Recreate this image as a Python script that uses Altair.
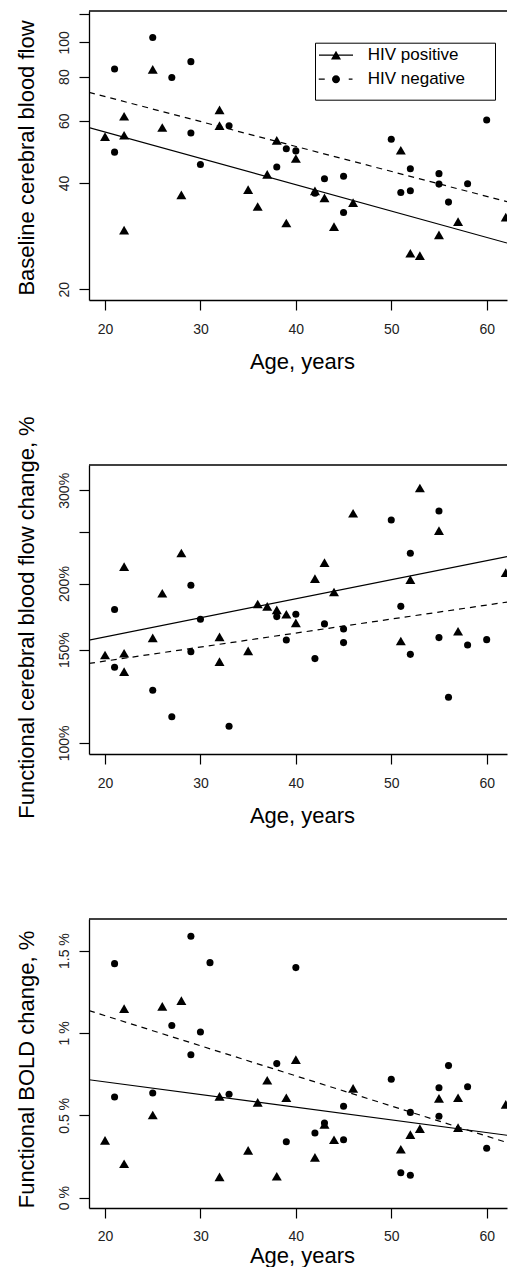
import altair as alt
import pandas as pd

# ---------------- data ----------------
GROUPS = ["HIV positive", "HIV negative"]

# panel 1: baseline cerebral blood flow (log axis)
cbf_pos_age = [20, 22, 22, 22, 25, 26, 28, 32, 32, 35, 36, 37, 38, 39, 40, 42, 43, 44, 46, 51, 52, 53, 55, 57, 62]
cbf_pos = [54.1, 61.8, 54.6, 29.4, 83.9, 57.4, 37.0, 64.4, 58.1, 38.3, 34.3, 42.3, 52.8, 30.8, 46.9,
           38.0, 36.3, 30.1, 35.2, 49.5, 25.3, 24.9, 28.5, 31.1, 32.0]
cbf_neg_age = [21, 21, 25, 27, 29, 29, 30, 33, 38, 39, 40, 42, 43, 45, 45, 50, 51, 52, 52, 55, 55, 56, 58, 60]
cbf_neg = [84.1, 48.9, 103.2, 79.5, 88.2, 55.4, 45.1, 58.1, 44.4, 50.0, 49.3, 37.4, 41.1, 41.8, 33.0,
           53.2, 37.6, 43.9, 38.0, 42.5, 39.7, 35.3, 39.8, 60.3]

# panel 2: functional cerebral blood flow change, % (log axis)
fcbf_pos_age = cbf_pos_age
fcbf_pos = [146.6, 215.3, 147.7, 136.4, 157.9, 191.7, 228.4, 158.6, 142.4, 149.2, 183.0, 181.1, 178.3,
            175.0, 168.5, 204.3, 219.0, 192.8, 271.5, 155.8, 203.4, 303.0, 251.7, 162.5, 209.7]
fcbf_neg_age = cbf_neg_age
fcbf_neg = [178.6, 139.0, 125.7, 112.1, 198.5, 148.7, 171.2, 107.5, 173.2, 156.5, 175.0, 144.3, 167.8,
            164.1, 154.7, 263.7, 181.1, 228.1, 147.0, 274.2, 158.1, 122.0, 153.1, 156.7]

# panel 3: functional BOLD change, %
bold_pos_age = [20, 22, 22, 25, 26, 28, 32, 32, 35, 36, 37, 38, 39, 40, 42, 43, 44, 46, 51, 52, 53, 55, 57, 57, 62]
bold_pos = [0.348, 1.148, 0.206, 0.502, 1.162, 1.196, 0.615, 0.126, 0.287, 0.579, 0.713, 0.130, 0.607,
            0.838, 0.245, 0.445, 0.352, 0.664, 0.294, 0.383, 0.419, 0.603, 0.425, 0.607, 0.567]
bold_neg_age = [21, 21, 25, 27, 29, 29, 30, 31, 33, 38, 39, 40, 42, 43, 45, 45, 50, 51, 52, 52, 55, 55, 56, 58, 60]
bold_neg = [1.421, 0.611, 0.636, 1.045, 1.587, 0.868, 1.006, 1.427, 0.628, 0.814, 0.340, 1.397, 0.393,
            0.453, 0.555, 0.352, 0.719, 0.152, 0.136, 0.518, 0.668, 0.494, 0.802, 0.674, 0.300]

# fitted regression lines: values at the left and right edges of the visible plotting region
fit_age = [18.32, 62.13]
cbf_fit_pos = [57.4, 27.04]
cbf_fit_neg = [72.2, 35.41]
fcbf_fit_pos = [156.4, 224.85]
fcbf_fit_neg = [141.3, 184.5]
bold_fit_pos = [0.716, 0.379]
bold_fit_neg = [1.136, 0.335]

x_ticks = [20, 30, 40, 50, 60]

# ---------------- styling ----------------
FONT = "Liberation Sans"
W, H = 418, 289
X_DOMAIN = [18.32, 62.13]

# legend key glyphs (units of 5 px): line + marker, plus move-to points that set the box extent
TRI_PATH = ("M-3.4,-0.12H3.4V0.12H-3.4Z"
            "M0,-0.9L1,0.85L-1,0.85Z"
            "M0,-3.66M31,0")
CIRC_PATH = ("M-3.45,-0.12H-2.25V0.12H-3.45Z"
             "M2.55,-0.12H3.3V0.12H2.55Z"
             "M0.8,0A0.8,0.8,0,1,1,-0.8,0A0.8,0.8,0,1,1,0.8,0Z"
             "M0,3.14M31,0")


def panel(ytitle, pa, pv, na, nv, fpos, fneg, yscale, yvalues, ylabel_expr, leg_xy,
          x_label_pad, x_title_pad, y_title_y):
    x = alt.X("age:Q", scale=alt.Scale(domain=X_DOMAIN, nice=False, zero=False),
              axis=alt.Axis(values=x_ticks, title="Age, years", labelOverlap=False,
                            labelPadding=x_label_pad, titlePadding=x_title_pad, titleX=213))
    y = alt.Y("val:Q", scale=yscale,
              axis=alt.Axis(values=yvalues, title=ytitle, labelExpr=ylabel_expr, labelOverlap=False,
                            titleY=y_title_y))

    pos_df = pd.DataFrame({"age": pa, "val": pv})
    neg_df = pd.DataFrame({"age": na, "val": nv})
    fpos_df = pd.DataFrame({"age": fit_age, "val": fpos})
    fneg_df = pd.DataFrame({"age": fit_age, "val": fneg})

    top = alt.Chart(pd.DataFrame({"a": [0]})).mark_rule(color="black", strokeWidth=1.3).encode(
        x=alt.value(0), x2=alt.value(W), y=alt.value(0))
    line_neg = alt.Chart(fneg_df).mark_line(color="black", strokeWidth=1.2, strokeDash=[6, 5],
                                            clip=True).encode(x=x, y=y)
    line_pos = alt.Chart(fpos_df).mark_line(color="black", strokeWidth=1.2, clip=True).encode(x=x, y=y)
    circ = alt.Chart(neg_df).mark_point(shape="circle", filled=True, size=50, color="black",
                                        opacity=1, clip=True).encode(x=x, y=y)
    tri = alt.Chart(pos_df).mark_point(shape="triangle-up", filled=True, size=100, color="black",
                                       opacity=1, clip=True).encode(x=x, y=y)
    leg = alt.Chart(pd.DataFrame({"grp": GROUPS})).transform_filter("false").mark_point(
        fill="black", opacity=1, filled=True
    ).encode(
        shape=alt.Shape("grp:N", scale=alt.Scale(domain=GROUPS, range=[TRI_PATH, CIRC_PATH]),
                        legend=alt.Legend(
                            title=None, orient="none", legendX=leg_xy[0], legendY=leg_xy[1],
                            padding=4, strokeColor="black", fillColor="white", cornerRadius=0,
                            labelFont=FONT, labelFontSize=17, labelColor="black",
                            symbolSize=100, symbolStrokeWidth=0, symbolFillColor="black",
                            symbolOpacity=1, symbolOffset=8.5, labelOffset=23.2, rowPadding=6))
    )
    return alt.layer(top, line_neg, line_pos, circ, tri, leg).properties(width=W, height=H)


p1 = panel("Baseline cerebral blood flow", cbf_pos_age, cbf_pos, cbf_neg_age, cbf_neg,
           cbf_fit_pos, cbf_fit_neg,
           alt.Scale(type="log", domain=[18.65, 122.7], nice=False),
           [20, 40, 60, 80, 100, 120], "datum.value == 120 ? '' : datum.label", (226, 31.7),
           12, 15, 146.5)
p2 = panel("Functional cerebral blood flow change, %", fcbf_pos_age, fcbf_pos, fcbf_neg_age, fcbf_neg,
           fcbf_fit_pos, fcbf_fit_neg,
           alt.Scale(type="log", domain=[95.3, 334.9], nice=False),
           [100, 150, 200, 250, 300], "datum.value == 250 ? '' : datum.value + '%'", (15.3, 10.3),
           12, 15, 152)
p3 = panel("Functional BOLD change,  %", bold_pos_age, bold_pos, bold_neg_age, bold_neg,
           bold_fit_pos, bold_fit_neg,
           alt.Scale(type="linear", domain=[-0.0625, 1.692], nice=False, zero=False),
           [0, 0.5, 1, 1.5], "datum.value + ' %'", (226, 31.3),
           11, 2, 150)

chart = alt.vconcat(p1, p2, p3, spacing=165, bounds="flush").properties(
    padding={"left": 6, "top": 2, "right": 0, "bottom": 1}
).configure_view(stroke=None).configure_axis(
    labelFont=FONT, titleFont=FONT, labelFontSize=14, titleFontSize=22, titleFontWeight="normal",
    labelColor="#222222", titleColor="black", tickColor="black", domainColor="black",
    domainWidth=1.3, tickWidth=1.2, tickSize=10, grid=False
).configure_axisY(
    labelAngle=270, labelAlign="center", labelBaseline="alphabetic", labelPadding=11, titlePadding=19
)

chart.save("out.html", embed_options={"renderer": "svg", "actions": False})
